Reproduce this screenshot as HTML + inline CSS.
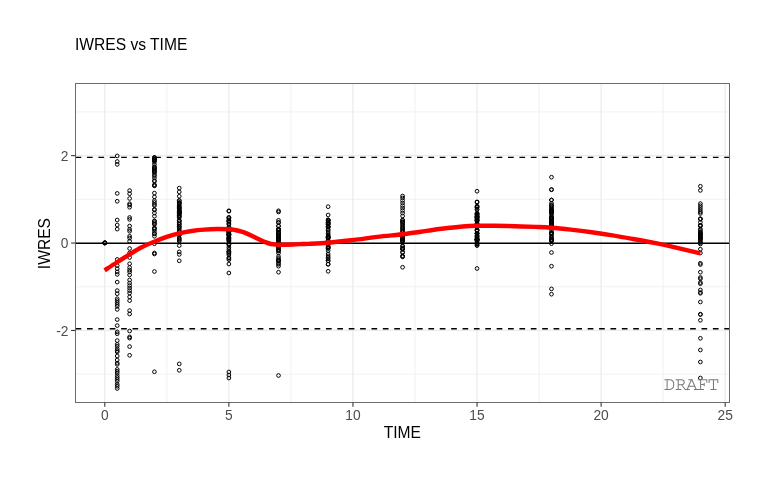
<!DOCTYPE html>
<html><head><meta charset="utf-8"><title>IWRES vs TIME</title>
<style>
html,body{margin:0;padding:0;background:#fff;}
body{width:768px;height:480px;overflow:hidden;font-family:"Liberation Sans",sans-serif;}
svg{display:block;will-change:transform;}
svg text{font-family:"Liberation Sans",sans-serif;}
svg text.mono{font-family:"Liberation Mono",monospace;}
</style></head><body>
<svg width="768" height="480" viewBox="0 0 768 480">
<rect width="768" height="480" fill="#fff"/>
<defs><clipPath id="c"><rect x="75.6" y="83.5" width="654.1999999999999" height="318.9"/></clipPath></defs>
<g clip-path="url(#c)">
<line x1="166.84" x2="166.84" y1="83.5" y2="402.4" stroke="#ebebeb" stroke-width="0.7"/>
<line x1="290.92" x2="290.92" y1="83.5" y2="402.4" stroke="#ebebeb" stroke-width="0.7"/>
<line x1="415.00" x2="415.00" y1="83.5" y2="402.4" stroke="#ebebeb" stroke-width="0.7"/>
<line x1="539.08" x2="539.08" y1="83.5" y2="402.4" stroke="#ebebeb" stroke-width="0.7"/>
<line x1="663.16" x2="663.16" y1="83.5" y2="402.4" stroke="#ebebeb" stroke-width="0.7"/>
<line y1="111.95" y2="111.95" x1="75.6" x2="729.8" stroke="#ebebeb" stroke-width="0.7"/>
<line y1="199.35" y2="199.35" x1="75.6" x2="729.8" stroke="#ebebeb" stroke-width="0.7"/>
<line y1="286.75" y2="286.75" x1="75.6" x2="729.8" stroke="#ebebeb" stroke-width="0.7"/>
<line y1="374.15" y2="374.15" x1="75.6" x2="729.8" stroke="#ebebeb" stroke-width="0.7"/>
<line x1="104.80" x2="104.80" y1="83.5" y2="402.4" stroke="#ebebeb" stroke-width="1.25"/>
<line x1="228.88" x2="228.88" y1="83.5" y2="402.4" stroke="#ebebeb" stroke-width="1.25"/>
<line x1="352.96" x2="352.96" y1="83.5" y2="402.4" stroke="#ebebeb" stroke-width="1.25"/>
<line x1="477.04" x2="477.04" y1="83.5" y2="402.4" stroke="#ebebeb" stroke-width="1.25"/>
<line x1="601.12" x2="601.12" y1="83.5" y2="402.4" stroke="#ebebeb" stroke-width="1.25"/>
<line x1="725.20" x2="725.20" y1="83.5" y2="402.4" stroke="#ebebeb" stroke-width="1.25"/>
<line y1="155.65" y2="155.65" x1="75.6" x2="729.8" stroke="#ebebeb" stroke-width="1.25"/>
<line y1="243.05" y2="243.05" x1="75.6" x2="729.8" stroke="#ebebeb" stroke-width="1.25"/>
<line y1="330.45" y2="330.45" x1="75.6" x2="729.8" stroke="#ebebeb" stroke-width="1.25"/>
<g fill="none" stroke="#000" stroke-width="1.0">
<circle cx="104.80" cy="242.90" r="1.85"/>
<circle cx="104.80" cy="242.90" r="1.85"/>
<circle cx="104.80" cy="242.90" r="1.85"/>
<circle cx="104.80" cy="242.60" r="1.85"/>
<circle cx="104.80" cy="243.20" r="1.85"/>
<circle cx="117.21" cy="155.90" r="1.85"/>
<circle cx="117.21" cy="161.50" r="1.85"/>
<circle cx="117.21" cy="164.40" r="1.85"/>
<circle cx="117.21" cy="193.40" r="1.85"/>
<circle cx="117.21" cy="201.25" r="1.85"/>
<circle cx="117.21" cy="220.00" r="1.85"/>
<circle cx="117.21" cy="225.00" r="1.85"/>
<circle cx="117.21" cy="229.10" r="1.85"/>
<circle cx="117.21" cy="259.40" r="1.85"/>
<circle cx="117.21" cy="265.60" r="1.85"/>
<circle cx="117.21" cy="268.75" r="1.85"/>
<circle cx="117.21" cy="271.90" r="1.85"/>
<circle cx="117.21" cy="274.40" r="1.85"/>
<circle cx="117.21" cy="282.10" r="1.85"/>
<circle cx="117.21" cy="290.60" r="1.85"/>
<circle cx="117.21" cy="293.75" r="1.85"/>
<circle cx="117.21" cy="298.75" r="1.85"/>
<circle cx="117.21" cy="300.60" r="1.85"/>
<circle cx="117.21" cy="302.50" r="1.85"/>
<circle cx="117.21" cy="304.40" r="1.85"/>
<circle cx="117.21" cy="306.25" r="1.85"/>
<circle cx="117.21" cy="309.40" r="1.85"/>
<circle cx="117.21" cy="319.60" r="1.85"/>
<circle cx="117.21" cy="325.60" r="1.85"/>
<circle cx="117.21" cy="331.90" r="1.85"/>
<circle cx="117.21" cy="333.75" r="1.85"/>
<circle cx="117.21" cy="340.60" r="1.85"/>
<circle cx="117.21" cy="344.40" r="1.85"/>
<circle cx="117.21" cy="346.25" r="1.85"/>
<circle cx="117.21" cy="348.75" r="1.85"/>
<circle cx="117.21" cy="350.60" r="1.85"/>
<circle cx="117.21" cy="351.90" r="1.85"/>
<circle cx="117.21" cy="356.00" r="1.85"/>
<circle cx="117.21" cy="360.00" r="1.85"/>
<circle cx="117.21" cy="363.10" r="1.85"/>
<circle cx="117.21" cy="364.40" r="1.85"/>
<circle cx="117.21" cy="369.40" r="1.85"/>
<circle cx="117.21" cy="371.25" r="1.85"/>
<circle cx="117.21" cy="373.10" r="1.85"/>
<circle cx="117.21" cy="375.60" r="1.85"/>
<circle cx="117.21" cy="377.50" r="1.85"/>
<circle cx="117.21" cy="379.40" r="1.85"/>
<circle cx="117.21" cy="381.25" r="1.85"/>
<circle cx="117.21" cy="384.40" r="1.85"/>
<circle cx="117.21" cy="386.25" r="1.85"/>
<circle cx="117.21" cy="388.50" r="1.85"/>
<circle cx="129.62" cy="190.60" r="1.85"/>
<circle cx="129.62" cy="193.75" r="1.85"/>
<circle cx="129.62" cy="198.50" r="1.85"/>
<circle cx="129.62" cy="203.75" r="1.85"/>
<circle cx="129.62" cy="205.00" r="1.85"/>
<circle cx="129.62" cy="207.25" r="1.85"/>
<circle cx="129.62" cy="217.50" r="1.85"/>
<circle cx="129.62" cy="219.40" r="1.85"/>
<circle cx="129.62" cy="226.00" r="1.85"/>
<circle cx="129.62" cy="229.40" r="1.85"/>
<circle cx="129.62" cy="231.25" r="1.85"/>
<circle cx="129.62" cy="236.25" r="1.85"/>
<circle cx="129.62" cy="238.10" r="1.85"/>
<circle cx="129.62" cy="241.25" r="1.85"/>
<circle cx="129.62" cy="248.50" r="1.85"/>
<circle cx="129.62" cy="253.00" r="1.85"/>
<circle cx="129.62" cy="257.50" r="1.85"/>
<circle cx="129.62" cy="263.75" r="1.85"/>
<circle cx="129.62" cy="267.50" r="1.85"/>
<circle cx="129.62" cy="270.00" r="1.85"/>
<circle cx="129.62" cy="271.90" r="1.85"/>
<circle cx="129.62" cy="275.00" r="1.85"/>
<circle cx="129.62" cy="280.00" r="1.85"/>
<circle cx="129.62" cy="283.10" r="1.85"/>
<circle cx="129.62" cy="285.60" r="1.85"/>
<circle cx="129.62" cy="288.10" r="1.85"/>
<circle cx="129.62" cy="290.60" r="1.85"/>
<circle cx="129.62" cy="293.10" r="1.85"/>
<circle cx="129.62" cy="296.90" r="1.85"/>
<circle cx="129.62" cy="300.60" r="1.85"/>
<circle cx="129.62" cy="310.60" r="1.85"/>
<circle cx="129.62" cy="314.00" r="1.85"/>
<circle cx="129.62" cy="331.00" r="1.85"/>
<circle cx="129.62" cy="336.90" r="1.85"/>
<circle cx="129.62" cy="338.10" r="1.85"/>
<circle cx="129.62" cy="346.60" r="1.85"/>
<circle cx="129.62" cy="355.30" r="1.85"/>
<circle cx="154.43" cy="157.50" r="1.85"/>
<circle cx="154.43" cy="157.50" r="1.85"/>
<circle cx="154.43" cy="158.55" r="1.85"/>
<circle cx="154.43" cy="159.12" r="1.85"/>
<circle cx="154.43" cy="159.46" r="1.85"/>
<circle cx="154.43" cy="159.53" r="1.85"/>
<circle cx="154.43" cy="160.04" r="1.85"/>
<circle cx="154.43" cy="160.90" r="1.85"/>
<circle cx="154.43" cy="161.72" r="1.85"/>
<circle cx="154.43" cy="164.30" r="1.85"/>
<circle cx="154.43" cy="166.57" r="1.85"/>
<circle cx="154.43" cy="167.70" r="1.85"/>
<circle cx="154.43" cy="167.74" r="1.85"/>
<circle cx="154.43" cy="169.39" r="1.85"/>
<circle cx="154.43" cy="169.64" r="1.85"/>
<circle cx="154.43" cy="171.10" r="1.85"/>
<circle cx="154.43" cy="171.71" r="1.85"/>
<circle cx="154.43" cy="172.50" r="1.85"/>
<circle cx="154.43" cy="174.50" r="1.85"/>
<circle cx="154.43" cy="175.73" r="1.85"/>
<circle cx="154.43" cy="177.90" r="1.85"/>
<circle cx="154.43" cy="180.65" r="1.85"/>
<circle cx="154.43" cy="181.30" r="1.85"/>
<circle cx="154.43" cy="184.70" r="1.85"/>
<circle cx="154.43" cy="185.50" r="1.85"/>
<circle cx="154.43" cy="185.90" r="1.85"/>
<circle cx="154.43" cy="193.10" r="1.85"/>
<circle cx="154.43" cy="196.90" r="1.85"/>
<circle cx="154.43" cy="200.60" r="1.85"/>
<circle cx="154.43" cy="202.50" r="1.85"/>
<circle cx="154.43" cy="204.40" r="1.85"/>
<circle cx="154.43" cy="209.40" r="1.85"/>
<circle cx="154.43" cy="205.60" r="1.85"/>
<circle cx="154.43" cy="210.00" r="1.85"/>
<circle cx="154.43" cy="213.00" r="1.85"/>
<circle cx="154.43" cy="216.25" r="1.85"/>
<circle cx="154.43" cy="221.00" r="1.85"/>
<circle cx="154.43" cy="221.00" r="1.85"/>
<circle cx="154.43" cy="222.61" r="1.85"/>
<circle cx="154.43" cy="223.90" r="1.85"/>
<circle cx="154.43" cy="224.40" r="1.85"/>
<circle cx="154.43" cy="227.80" r="1.85"/>
<circle cx="154.43" cy="228.50" r="1.85"/>
<circle cx="154.43" cy="229.16" r="1.85"/>
<circle cx="154.43" cy="231.20" r="1.85"/>
<circle cx="154.43" cy="233.32" r="1.85"/>
<circle cx="154.43" cy="234.00" r="1.85"/>
<circle cx="154.43" cy="236.25" r="1.85"/>
<circle cx="154.43" cy="243.75" r="1.85"/>
<circle cx="154.43" cy="253.00" r="1.85"/>
<circle cx="154.43" cy="254.00" r="1.85"/>
<circle cx="154.43" cy="271.50" r="1.85"/>
<circle cx="154.43" cy="371.80" r="1.85"/>
<circle cx="179.25" cy="188.10" r="1.85"/>
<circle cx="179.25" cy="191.90" r="1.85"/>
<circle cx="179.25" cy="196.25" r="1.85"/>
<circle cx="179.25" cy="200.60" r="1.85"/>
<circle cx="179.25" cy="200.60" r="1.85"/>
<circle cx="179.25" cy="202.48" r="1.85"/>
<circle cx="179.25" cy="203.01" r="1.85"/>
<circle cx="179.25" cy="203.14" r="1.85"/>
<circle cx="179.25" cy="204.00" r="1.85"/>
<circle cx="179.25" cy="205.36" r="1.85"/>
<circle cx="179.25" cy="206.43" r="1.85"/>
<circle cx="179.25" cy="207.40" r="1.85"/>
<circle cx="179.25" cy="207.90" r="1.85"/>
<circle cx="179.25" cy="208.52" r="1.85"/>
<circle cx="179.25" cy="208.94" r="1.85"/>
<circle cx="179.25" cy="210.08" r="1.85"/>
<circle cx="179.25" cy="210.80" r="1.85"/>
<circle cx="179.25" cy="211.37" r="1.85"/>
<circle cx="179.25" cy="211.92" r="1.85"/>
<circle cx="179.25" cy="212.30" r="1.85"/>
<circle cx="179.25" cy="212.30" r="1.85"/>
<circle cx="179.25" cy="213.06" r="1.85"/>
<circle cx="179.25" cy="213.08" r="1.85"/>
<circle cx="179.25" cy="213.18" r="1.85"/>
<circle cx="179.25" cy="213.20" r="1.85"/>
<circle cx="179.25" cy="214.20" r="1.85"/>
<circle cx="179.25" cy="215.64" r="1.85"/>
<circle cx="179.25" cy="215.65" r="1.85"/>
<circle cx="179.25" cy="216.63" r="1.85"/>
<circle cx="179.25" cy="217.60" r="1.85"/>
<circle cx="179.25" cy="220.50" r="1.85"/>
<circle cx="179.25" cy="220.74" r="1.85"/>
<circle cx="179.25" cy="221.00" r="1.85"/>
<circle cx="179.25" cy="222.73" r="1.85"/>
<circle cx="179.25" cy="224.10" r="1.85"/>
<circle cx="179.25" cy="224.40" r="1.85"/>
<circle cx="179.25" cy="226.41" r="1.85"/>
<circle cx="179.25" cy="226.49" r="1.85"/>
<circle cx="179.25" cy="227.80" r="1.85"/>
<circle cx="179.25" cy="228.92" r="1.85"/>
<circle cx="179.25" cy="230.80" r="1.85"/>
<circle cx="179.25" cy="231.20" r="1.85"/>
<circle cx="179.25" cy="233.57" r="1.85"/>
<circle cx="179.25" cy="234.60" r="1.85"/>
<circle cx="179.25" cy="235.28" r="1.85"/>
<circle cx="179.25" cy="238.00" r="1.85"/>
<circle cx="179.25" cy="238.88" r="1.85"/>
<circle cx="179.25" cy="240.04" r="1.85"/>
<circle cx="179.25" cy="241.00" r="1.85"/>
<circle cx="179.25" cy="245.60" r="1.85"/>
<circle cx="179.25" cy="251.90" r="1.85"/>
<circle cx="179.25" cy="254.40" r="1.85"/>
<circle cx="179.25" cy="260.80" r="1.85"/>
<circle cx="179.25" cy="363.90" r="1.85"/>
<circle cx="179.25" cy="370.30" r="1.85"/>
<circle cx="228.88" cy="210.80" r="1.85"/>
<circle cx="228.88" cy="211.20" r="1.85"/>
<circle cx="228.88" cy="217.50" r="1.85"/>
<circle cx="228.88" cy="217.50" r="1.85"/>
<circle cx="228.88" cy="218.67" r="1.85"/>
<circle cx="228.88" cy="220.66" r="1.85"/>
<circle cx="228.88" cy="220.90" r="1.85"/>
<circle cx="228.88" cy="221.02" r="1.85"/>
<circle cx="228.88" cy="222.03" r="1.85"/>
<circle cx="228.88" cy="223.65" r="1.85"/>
<circle cx="228.88" cy="224.30" r="1.85"/>
<circle cx="228.88" cy="226.85" r="1.85"/>
<circle cx="228.88" cy="227.70" r="1.85"/>
<circle cx="228.88" cy="228.71" r="1.85"/>
<circle cx="228.88" cy="229.72" r="1.85"/>
<circle cx="228.88" cy="229.96" r="1.85"/>
<circle cx="228.88" cy="230.02" r="1.85"/>
<circle cx="228.88" cy="230.55" r="1.85"/>
<circle cx="228.88" cy="231.10" r="1.85"/>
<circle cx="228.88" cy="231.13" r="1.85"/>
<circle cx="228.88" cy="231.30" r="1.85"/>
<circle cx="228.88" cy="231.33" r="1.85"/>
<circle cx="228.88" cy="231.83" r="1.85"/>
<circle cx="228.88" cy="231.98" r="1.85"/>
<circle cx="228.88" cy="232.07" r="1.85"/>
<circle cx="228.88" cy="233.43" r="1.85"/>
<circle cx="228.88" cy="234.00" r="1.85"/>
<circle cx="228.88" cy="234.16" r="1.85"/>
<circle cx="228.88" cy="234.50" r="1.85"/>
<circle cx="228.88" cy="234.58" r="1.85"/>
<circle cx="228.88" cy="234.78" r="1.85"/>
<circle cx="228.88" cy="235.21" r="1.85"/>
<circle cx="228.88" cy="235.84" r="1.85"/>
<circle cx="228.88" cy="237.41" r="1.85"/>
<circle cx="228.88" cy="237.90" r="1.85"/>
<circle cx="228.88" cy="238.22" r="1.85"/>
<circle cx="228.88" cy="238.70" r="1.85"/>
<circle cx="228.88" cy="239.35" r="1.85"/>
<circle cx="228.88" cy="240.06" r="1.85"/>
<circle cx="228.88" cy="240.28" r="1.85"/>
<circle cx="228.88" cy="241.30" r="1.85"/>
<circle cx="228.88" cy="243.59" r="1.85"/>
<circle cx="228.88" cy="244.43" r="1.85"/>
<circle cx="228.88" cy="244.70" r="1.85"/>
<circle cx="228.88" cy="247.30" r="1.85"/>
<circle cx="228.88" cy="249.20" r="1.85"/>
<circle cx="228.88" cy="251.50" r="1.85"/>
<circle cx="228.88" cy="251.50" r="1.85"/>
<circle cx="228.88" cy="252.56" r="1.85"/>
<circle cx="228.88" cy="253.53" r="1.85"/>
<circle cx="228.88" cy="254.90" r="1.85"/>
<circle cx="228.88" cy="257.80" r="1.85"/>
<circle cx="228.88" cy="258.30" r="1.85"/>
<circle cx="228.88" cy="259.70" r="1.85"/>
<circle cx="228.88" cy="264.00" r="1.85"/>
<circle cx="228.88" cy="273.00" r="1.85"/>
<circle cx="228.88" cy="372.00" r="1.85"/>
<circle cx="228.88" cy="375.00" r="1.85"/>
<circle cx="228.88" cy="378.00" r="1.85"/>
<circle cx="278.51" cy="210.80" r="1.85"/>
<circle cx="278.51" cy="212.00" r="1.85"/>
<circle cx="278.51" cy="220.30" r="1.85"/>
<circle cx="278.51" cy="222.50" r="1.85"/>
<circle cx="278.51" cy="222.50" r="1.85"/>
<circle cx="278.51" cy="225.90" r="1.85"/>
<circle cx="278.51" cy="226.02" r="1.85"/>
<circle cx="278.51" cy="229.10" r="1.85"/>
<circle cx="278.51" cy="229.30" r="1.85"/>
<circle cx="278.51" cy="229.49" r="1.85"/>
<circle cx="278.51" cy="230.20" r="1.85"/>
<circle cx="278.51" cy="230.34" r="1.85"/>
<circle cx="278.51" cy="232.18" r="1.85"/>
<circle cx="278.51" cy="232.64" r="1.85"/>
<circle cx="278.51" cy="232.70" r="1.85"/>
<circle cx="278.51" cy="232.70" r="1.85"/>
<circle cx="278.51" cy="233.29" r="1.85"/>
<circle cx="278.51" cy="234.67" r="1.85"/>
<circle cx="278.51" cy="234.96" r="1.85"/>
<circle cx="278.51" cy="236.10" r="1.85"/>
<circle cx="278.51" cy="236.61" r="1.85"/>
<circle cx="278.51" cy="236.84" r="1.85"/>
<circle cx="278.51" cy="237.73" r="1.85"/>
<circle cx="278.51" cy="238.18" r="1.85"/>
<circle cx="278.51" cy="238.86" r="1.85"/>
<circle cx="278.51" cy="238.97" r="1.85"/>
<circle cx="278.51" cy="239.50" r="1.85"/>
<circle cx="278.51" cy="239.58" r="1.85"/>
<circle cx="278.51" cy="240.20" r="1.85"/>
<circle cx="278.51" cy="240.65" r="1.85"/>
<circle cx="278.51" cy="242.13" r="1.85"/>
<circle cx="278.51" cy="242.90" r="1.85"/>
<circle cx="278.51" cy="243.69" r="1.85"/>
<circle cx="278.51" cy="246.30" r="1.85"/>
<circle cx="278.51" cy="246.51" r="1.85"/>
<circle cx="278.51" cy="247.21" r="1.85"/>
<circle cx="278.51" cy="247.94" r="1.85"/>
<circle cx="278.51" cy="249.60" r="1.85"/>
<circle cx="278.51" cy="249.70" r="1.85"/>
<circle cx="278.51" cy="250.70" r="1.85"/>
<circle cx="278.51" cy="251.17" r="1.85"/>
<circle cx="278.51" cy="253.10" r="1.85"/>
<circle cx="278.51" cy="256.50" r="1.85"/>
<circle cx="278.51" cy="258.30" r="1.85"/>
<circle cx="278.51" cy="259.90" r="1.85"/>
<circle cx="278.51" cy="260.26" r="1.85"/>
<circle cx="278.51" cy="260.58" r="1.85"/>
<circle cx="278.51" cy="261.10" r="1.85"/>
<circle cx="278.51" cy="261.14" r="1.85"/>
<circle cx="278.51" cy="263.30" r="1.85"/>
<circle cx="278.51" cy="264.35" r="1.85"/>
<circle cx="278.51" cy="266.20" r="1.85"/>
<circle cx="278.51" cy="272.20" r="1.85"/>
<circle cx="278.51" cy="375.50" r="1.85"/>
<circle cx="328.14" cy="206.70" r="1.85"/>
<circle cx="328.14" cy="215.00" r="1.85"/>
<circle cx="328.14" cy="220.00" r="1.85"/>
<circle cx="328.14" cy="220.00" r="1.85"/>
<circle cx="328.14" cy="220.01" r="1.85"/>
<circle cx="328.14" cy="220.24" r="1.85"/>
<circle cx="328.14" cy="221.13" r="1.85"/>
<circle cx="328.14" cy="222.33" r="1.85"/>
<circle cx="328.14" cy="222.76" r="1.85"/>
<circle cx="328.14" cy="222.98" r="1.85"/>
<circle cx="328.14" cy="223.40" r="1.85"/>
<circle cx="328.14" cy="224.49" r="1.85"/>
<circle cx="328.14" cy="224.59" r="1.85"/>
<circle cx="328.14" cy="226.58" r="1.85"/>
<circle cx="328.14" cy="226.70" r="1.85"/>
<circle cx="328.14" cy="226.80" r="1.85"/>
<circle cx="328.14" cy="227.19" r="1.85"/>
<circle cx="328.14" cy="229.25" r="1.85"/>
<circle cx="328.14" cy="230.20" r="1.85"/>
<circle cx="328.14" cy="231.90" r="1.85"/>
<circle cx="328.14" cy="233.60" r="1.85"/>
<circle cx="328.14" cy="235.06" r="1.85"/>
<circle cx="328.14" cy="236.11" r="1.85"/>
<circle cx="328.14" cy="236.77" r="1.85"/>
<circle cx="328.14" cy="237.00" r="1.85"/>
<circle cx="328.14" cy="237.38" r="1.85"/>
<circle cx="328.14" cy="237.51" r="1.85"/>
<circle cx="328.14" cy="237.67" r="1.85"/>
<circle cx="328.14" cy="238.28" r="1.85"/>
<circle cx="328.14" cy="240.40" r="1.85"/>
<circle cx="328.14" cy="240.89" r="1.85"/>
<circle cx="328.14" cy="242.93" r="1.85"/>
<circle cx="328.14" cy="242.97" r="1.85"/>
<circle cx="328.14" cy="243.28" r="1.85"/>
<circle cx="328.14" cy="243.80" r="1.85"/>
<circle cx="328.14" cy="244.12" r="1.85"/>
<circle cx="328.14" cy="244.22" r="1.85"/>
<circle cx="328.14" cy="246.30" r="1.85"/>
<circle cx="328.14" cy="247.20" r="1.85"/>
<circle cx="328.14" cy="247.20" r="1.85"/>
<circle cx="328.14" cy="248.10" r="1.85"/>
<circle cx="328.14" cy="248.48" r="1.85"/>
<circle cx="328.14" cy="250.60" r="1.85"/>
<circle cx="328.14" cy="254.00" r="1.85"/>
<circle cx="328.14" cy="255.87" r="1.85"/>
<circle cx="328.14" cy="257.40" r="1.85"/>
<circle cx="328.14" cy="258.73" r="1.85"/>
<circle cx="328.14" cy="260.67" r="1.85"/>
<circle cx="328.14" cy="260.80" r="1.85"/>
<circle cx="328.14" cy="264.20" r="1.85"/>
<circle cx="328.14" cy="264.30" r="1.85"/>
<circle cx="328.14" cy="271.30" r="1.85"/>
<circle cx="402.59" cy="196.00" r="1.85"/>
<circle cx="402.59" cy="198.00" r="1.85"/>
<circle cx="402.59" cy="200.50" r="1.85"/>
<circle cx="402.59" cy="203.00" r="1.85"/>
<circle cx="402.59" cy="205.60" r="1.85"/>
<circle cx="402.59" cy="208.00" r="1.85"/>
<circle cx="402.59" cy="210.50" r="1.85"/>
<circle cx="402.59" cy="213.00" r="1.85"/>
<circle cx="402.59" cy="216.00" r="1.85"/>
<circle cx="402.59" cy="220.00" r="1.85"/>
<circle cx="402.59" cy="220.40" r="1.85"/>
<circle cx="402.59" cy="222.00" r="1.85"/>
<circle cx="402.59" cy="222.00" r="1.85"/>
<circle cx="402.59" cy="222.94" r="1.85"/>
<circle cx="402.59" cy="224.44" r="1.85"/>
<circle cx="402.59" cy="225.40" r="1.85"/>
<circle cx="402.59" cy="227.12" r="1.85"/>
<circle cx="402.59" cy="227.83" r="1.85"/>
<circle cx="402.59" cy="228.80" r="1.85"/>
<circle cx="402.59" cy="230.14" r="1.85"/>
<circle cx="402.59" cy="231.11" r="1.85"/>
<circle cx="402.59" cy="232.20" r="1.85"/>
<circle cx="402.59" cy="234.77" r="1.85"/>
<circle cx="402.59" cy="234.80" r="1.85"/>
<circle cx="402.59" cy="235.60" r="1.85"/>
<circle cx="402.59" cy="235.70" r="1.85"/>
<circle cx="402.59" cy="237.08" r="1.85"/>
<circle cx="402.59" cy="238.05" r="1.85"/>
<circle cx="402.59" cy="238.37" r="1.85"/>
<circle cx="402.59" cy="239.00" r="1.85"/>
<circle cx="402.59" cy="240.25" r="1.85"/>
<circle cx="402.59" cy="240.43" r="1.85"/>
<circle cx="402.59" cy="240.44" r="1.85"/>
<circle cx="402.59" cy="240.59" r="1.85"/>
<circle cx="402.59" cy="240.96" r="1.85"/>
<circle cx="402.59" cy="242.40" r="1.85"/>
<circle cx="402.59" cy="245.80" r="1.85"/>
<circle cx="402.59" cy="246.30" r="1.85"/>
<circle cx="402.59" cy="248.00" r="1.85"/>
<circle cx="402.59" cy="248.94" r="1.85"/>
<circle cx="402.59" cy="248.99" r="1.85"/>
<circle cx="402.59" cy="249.20" r="1.85"/>
<circle cx="402.59" cy="252.13" r="1.85"/>
<circle cx="402.59" cy="252.60" r="1.85"/>
<circle cx="402.59" cy="256.00" r="1.85"/>
<circle cx="402.59" cy="256.15" r="1.85"/>
<circle cx="402.59" cy="256.90" r="1.85"/>
<circle cx="402.59" cy="267.25" r="1.85"/>
<circle cx="477.04" cy="191.25" r="1.85"/>
<circle cx="477.04" cy="201.90" r="1.85"/>
<circle cx="477.04" cy="202.20" r="1.85"/>
<circle cx="477.04" cy="206.25" r="1.85"/>
<circle cx="477.04" cy="206.25" r="1.85"/>
<circle cx="477.04" cy="207.35" r="1.85"/>
<circle cx="477.04" cy="207.39" r="1.85"/>
<circle cx="477.04" cy="209.13" r="1.85"/>
<circle cx="477.04" cy="209.65" r="1.85"/>
<circle cx="477.04" cy="213.05" r="1.85"/>
<circle cx="477.04" cy="213.55" r="1.85"/>
<circle cx="477.04" cy="213.99" r="1.85"/>
<circle cx="477.04" cy="214.29" r="1.85"/>
<circle cx="477.04" cy="214.93" r="1.85"/>
<circle cx="477.04" cy="215.18" r="1.85"/>
<circle cx="477.04" cy="216.45" r="1.85"/>
<circle cx="477.04" cy="216.45" r="1.85"/>
<circle cx="477.04" cy="216.45" r="1.85"/>
<circle cx="477.04" cy="217.25" r="1.85"/>
<circle cx="477.04" cy="217.46" r="1.85"/>
<circle cx="477.04" cy="217.51" r="1.85"/>
<circle cx="477.04" cy="218.24" r="1.85"/>
<circle cx="477.04" cy="218.66" r="1.85"/>
<circle cx="477.04" cy="219.85" r="1.85"/>
<circle cx="477.04" cy="219.95" r="1.85"/>
<circle cx="477.04" cy="220.20" r="1.85"/>
<circle cx="477.04" cy="220.24" r="1.85"/>
<circle cx="477.04" cy="220.60" r="1.85"/>
<circle cx="477.04" cy="221.19" r="1.85"/>
<circle cx="477.04" cy="223.25" r="1.85"/>
<circle cx="477.04" cy="223.85" r="1.85"/>
<circle cx="477.04" cy="224.18" r="1.85"/>
<circle cx="477.04" cy="224.91" r="1.85"/>
<circle cx="477.04" cy="224.93" r="1.85"/>
<circle cx="477.04" cy="225.12" r="1.85"/>
<circle cx="477.04" cy="225.65" r="1.85"/>
<circle cx="477.04" cy="226.51" r="1.85"/>
<circle cx="477.04" cy="226.62" r="1.85"/>
<circle cx="477.04" cy="226.65" r="1.85"/>
<circle cx="477.04" cy="227.51" r="1.85"/>
<circle cx="477.04" cy="227.59" r="1.85"/>
<circle cx="477.04" cy="230.02" r="1.85"/>
<circle cx="477.04" cy="230.05" r="1.85"/>
<circle cx="477.04" cy="230.11" r="1.85"/>
<circle cx="477.04" cy="230.81" r="1.85"/>
<circle cx="477.04" cy="233.08" r="1.85"/>
<circle cx="477.04" cy="233.25" r="1.85"/>
<circle cx="477.04" cy="233.45" r="1.85"/>
<circle cx="477.04" cy="233.50" r="1.85"/>
<circle cx="477.04" cy="235.20" r="1.85"/>
<circle cx="477.04" cy="235.47" r="1.85"/>
<circle cx="477.04" cy="236.51" r="1.85"/>
<circle cx="477.04" cy="236.85" r="1.85"/>
<circle cx="477.04" cy="237.66" r="1.85"/>
<circle cx="477.04" cy="238.89" r="1.85"/>
<circle cx="477.04" cy="239.05" r="1.85"/>
<circle cx="477.04" cy="239.29" r="1.85"/>
<circle cx="477.04" cy="239.32" r="1.85"/>
<circle cx="477.04" cy="239.48" r="1.85"/>
<circle cx="477.04" cy="239.60" r="1.85"/>
<circle cx="477.04" cy="239.70" r="1.85"/>
<circle cx="477.04" cy="240.25" r="1.85"/>
<circle cx="477.04" cy="240.25" r="1.85"/>
<circle cx="477.04" cy="240.50" r="1.85"/>
<circle cx="477.04" cy="241.68" r="1.85"/>
<circle cx="477.04" cy="243.12" r="1.85"/>
<circle cx="477.04" cy="243.65" r="1.85"/>
<circle cx="477.04" cy="243.83" r="1.85"/>
<circle cx="477.04" cy="243.89" r="1.85"/>
<circle cx="477.04" cy="245.13" r="1.85"/>
<circle cx="477.04" cy="245.60" r="1.85"/>
<circle cx="477.04" cy="268.50" r="1.85"/>
<circle cx="551.49" cy="177.20" r="1.85"/>
<circle cx="551.49" cy="189.50" r="1.85"/>
<circle cx="551.49" cy="189.80" r="1.85"/>
<circle cx="551.49" cy="200.00" r="1.85"/>
<circle cx="551.49" cy="200.00" r="1.85"/>
<circle cx="551.49" cy="203.40" r="1.85"/>
<circle cx="551.49" cy="205.27" r="1.85"/>
<circle cx="551.49" cy="205.73" r="1.85"/>
<circle cx="551.49" cy="206.80" r="1.85"/>
<circle cx="551.49" cy="208.21" r="1.85"/>
<circle cx="551.49" cy="209.22" r="1.85"/>
<circle cx="551.49" cy="210.20" r="1.85"/>
<circle cx="551.49" cy="210.51" r="1.85"/>
<circle cx="551.49" cy="211.01" r="1.85"/>
<circle cx="551.49" cy="211.33" r="1.85"/>
<circle cx="551.49" cy="211.80" r="1.85"/>
<circle cx="551.49" cy="212.06" r="1.85"/>
<circle cx="551.49" cy="212.80" r="1.85"/>
<circle cx="551.49" cy="213.60" r="1.85"/>
<circle cx="551.49" cy="215.46" r="1.85"/>
<circle cx="551.49" cy="217.00" r="1.85"/>
<circle cx="551.49" cy="217.95" r="1.85"/>
<circle cx="551.49" cy="218.01" r="1.85"/>
<circle cx="551.49" cy="218.31" r="1.85"/>
<circle cx="551.49" cy="218.34" r="1.85"/>
<circle cx="551.49" cy="218.96" r="1.85"/>
<circle cx="551.49" cy="220.02" r="1.85"/>
<circle cx="551.49" cy="220.40" r="1.85"/>
<circle cx="551.49" cy="221.66" r="1.85"/>
<circle cx="551.49" cy="221.72" r="1.85"/>
<circle cx="551.49" cy="223.01" r="1.85"/>
<circle cx="551.49" cy="223.23" r="1.85"/>
<circle cx="551.49" cy="223.38" r="1.85"/>
<circle cx="551.49" cy="223.80" r="1.85"/>
<circle cx="551.49" cy="223.91" r="1.85"/>
<circle cx="551.49" cy="225.49" r="1.85"/>
<circle cx="551.49" cy="225.63" r="1.85"/>
<circle cx="551.49" cy="225.67" r="1.85"/>
<circle cx="551.49" cy="227.20" r="1.85"/>
<circle cx="551.49" cy="228.43" r="1.85"/>
<circle cx="551.49" cy="230.60" r="1.85"/>
<circle cx="551.49" cy="232.79" r="1.85"/>
<circle cx="551.49" cy="232.85" r="1.85"/>
<circle cx="551.49" cy="233.43" r="1.85"/>
<circle cx="551.49" cy="233.47" r="1.85"/>
<circle cx="551.49" cy="234.00" r="1.85"/>
<circle cx="551.49" cy="236.10" r="1.85"/>
<circle cx="551.49" cy="237.40" r="1.85"/>
<circle cx="551.49" cy="238.10" r="1.85"/>
<circle cx="551.49" cy="239.52" r="1.85"/>
<circle cx="551.49" cy="239.77" r="1.85"/>
<circle cx="551.49" cy="240.13" r="1.85"/>
<circle cx="551.49" cy="240.80" r="1.85"/>
<circle cx="551.49" cy="240.80" r="1.85"/>
<circle cx="551.49" cy="243.70" r="1.85"/>
<circle cx="551.49" cy="252.50" r="1.85"/>
<circle cx="551.49" cy="266.20" r="1.85"/>
<circle cx="551.49" cy="288.90" r="1.85"/>
<circle cx="551.49" cy="294.20" r="1.85"/>
<circle cx="700.38" cy="186.25" r="1.85"/>
<circle cx="700.38" cy="190.40" r="1.85"/>
<circle cx="700.38" cy="203.60" r="1.85"/>
<circle cx="700.38" cy="205.70" r="1.85"/>
<circle cx="700.38" cy="207.80" r="1.85"/>
<circle cx="700.38" cy="209.90" r="1.85"/>
<circle cx="700.38" cy="212.00" r="1.85"/>
<circle cx="700.38" cy="213.50" r="1.85"/>
<circle cx="700.38" cy="218.75" r="1.85"/>
<circle cx="700.38" cy="219.00" r="1.85"/>
<circle cx="700.38" cy="219.00" r="1.85"/>
<circle cx="700.38" cy="222.40" r="1.85"/>
<circle cx="700.38" cy="225.21" r="1.85"/>
<circle cx="700.38" cy="225.80" r="1.85"/>
<circle cx="700.38" cy="225.92" r="1.85"/>
<circle cx="700.38" cy="229.20" r="1.85"/>
<circle cx="700.38" cy="230.08" r="1.85"/>
<circle cx="700.38" cy="231.69" r="1.85"/>
<circle cx="700.38" cy="232.60" r="1.85"/>
<circle cx="700.38" cy="233.04" r="1.85"/>
<circle cx="700.38" cy="234.31" r="1.85"/>
<circle cx="700.38" cy="234.58" r="1.85"/>
<circle cx="700.38" cy="235.07" r="1.85"/>
<circle cx="700.38" cy="236.00" r="1.85"/>
<circle cx="700.38" cy="236.90" r="1.85"/>
<circle cx="700.38" cy="237.88" r="1.85"/>
<circle cx="700.38" cy="238.00" r="1.85"/>
<circle cx="700.38" cy="238.31" r="1.85"/>
<circle cx="700.38" cy="239.40" r="1.85"/>
<circle cx="700.38" cy="240.26" r="1.85"/>
<circle cx="700.38" cy="241.81" r="1.85"/>
<circle cx="700.38" cy="242.80" r="1.85"/>
<circle cx="700.38" cy="244.00" r="1.85"/>
<circle cx="700.38" cy="249.20" r="1.85"/>
<circle cx="700.38" cy="253.00" r="1.85"/>
<circle cx="700.38" cy="263.30" r="1.85"/>
<circle cx="700.38" cy="264.50" r="1.85"/>
<circle cx="700.38" cy="272.20" r="1.85"/>
<circle cx="700.38" cy="277.50" r="1.85"/>
<circle cx="700.38" cy="278.80" r="1.85"/>
<circle cx="700.38" cy="282.50" r="1.85"/>
<circle cx="700.38" cy="283.70" r="1.85"/>
<circle cx="700.38" cy="290.00" r="1.85"/>
<circle cx="700.38" cy="292.50" r="1.85"/>
<circle cx="700.38" cy="293.30" r="1.85"/>
<circle cx="700.38" cy="302.00" r="1.85"/>
<circle cx="700.38" cy="314.20" r="1.85"/>
<circle cx="700.38" cy="314.50" r="1.85"/>
<circle cx="700.38" cy="320.30" r="1.85"/>
<circle cx="700.38" cy="338.30" r="1.85"/>
<circle cx="700.38" cy="350.00" r="1.85"/>
<circle cx="700.38" cy="362.00" r="1.85"/>
<circle cx="700.38" cy="378.00" r="1.85"/>
</g>
<line x1="75.6" x2="729.8" y1="243.27" y2="243.27" stroke="#000" stroke-width="1.45"/>
<line x1="75.6" x2="729.8" y1="157.40" y2="157.40" stroke="#000" stroke-width="1.4" stroke-dasharray="5.69 5.69"/>
<line x1="75.6" x2="729.8" y1="328.70" y2="328.70" stroke="#000" stroke-width="1.4" stroke-dasharray="5.69 5.69"/>
<path d="M104.60,270.40 C106.62,269.08 112.60,265.13 116.70,262.50 C120.80,259.87 125.03,257.13 129.20,254.60 C133.37,252.07 137.53,249.45 141.70,247.30 C145.87,245.15 150.03,243.43 154.20,241.70 C158.37,239.97 162.53,238.30 166.70,236.90 C170.87,235.50 175.03,234.28 179.20,233.30 C183.37,232.32 187.53,231.62 191.70,231.00 C195.87,230.38 200.03,229.93 204.20,229.60 C208.37,229.27 212.53,229.05 216.70,229.00 C220.87,228.95 226.15,229.13 229.20,229.30 C232.25,229.47 232.92,229.62 235.00,230.00 C237.08,230.38 239.70,231.00 241.70,231.60 C243.70,232.20 245.17,232.82 247.00,233.60 C248.83,234.38 251.03,235.50 252.70,236.30 C254.37,237.10 255.62,237.73 257.00,238.40 C258.38,239.07 259.67,239.70 261.00,240.30 C262.33,240.90 263.62,241.47 265.00,242.00 C266.38,242.53 267.88,243.12 269.30,243.50 C270.72,243.88 272.10,244.10 273.50,244.30 C274.90,244.50 275.62,244.62 277.70,244.70 C279.78,244.77 283.45,244.78 286.00,244.75 C288.55,244.72 290.67,244.60 293.00,244.50 C295.33,244.40 297.45,244.26 300.00,244.15 C302.55,244.04 303.62,244.09 308.30,243.85 C312.98,243.61 322.19,243.17 328.10,242.70 C334.01,242.22 338.72,241.55 343.75,241.00 C348.78,240.45 353.09,240.05 358.30,239.40 C363.51,238.75 369.43,237.77 375.00,237.10 C380.57,236.43 387.08,235.87 391.70,235.40 C396.32,234.93 397.85,234.92 402.70,234.30 C407.55,233.68 414.30,232.62 420.80,231.70 C427.30,230.77 434.75,229.62 441.70,228.75 C448.65,227.88 456.60,226.99 462.50,226.50 C468.40,226.01 471.89,225.92 477.10,225.80 C482.31,225.68 487.50,225.73 493.75,225.80 C500.00,225.88 507.66,226.07 514.60,226.25 C521.54,226.43 529.25,226.66 535.40,226.90 C541.55,227.14 545.60,227.25 551.50,227.70 C557.40,228.15 564.10,228.85 570.80,229.60 C577.50,230.35 584.75,231.24 591.70,232.20 C598.65,233.16 605.57,234.22 612.50,235.35 C619.43,236.48 626.35,237.74 633.30,239.00 C640.25,240.26 647.25,241.50 654.20,242.90 C661.15,244.30 667.30,245.67 675.00,247.40 C682.70,249.13 696.17,252.32 700.40,253.30" fill="none" stroke="#ff0000" stroke-width="4.45" stroke-linejoin="round" stroke-linecap="butt"/>
<path d="M665.0,379.7H669.5C672.6,379.7 673.8,382 673.8,384.6C673.8,387.2 672.6,389.5 669.5,389.5H665.0M667.1,379.7V389.5M676.1,379.7H681.3C683.3,379.7 684.2,380.9 684.2,382.2C684.2,383.5 683.3,384.7 681.3,384.7H678.2M678.2,379.7V389.5M676.1,389.5H680.8M681.6,384.7L685.2,389.5H686.8M688.9,379.7H691.9M691.4,379.7L687.2,389.5M691.9,379.7L696.2,389.5M685.8,389.5H689.3M694.3,389.5H697.9M688.6,386.2H694.8M698.3,379.7H706.8V382.3M700.6,379.7V389.5M698.3,389.5H703.5M700.6,384.5H704.2M704.2,383.2V385.8M709.1,382.5V379.7H717.8V382.5M713.45,379.7V389.5M711,389.5H716" fill="none" stroke="#7a7a7a" stroke-width="1.05" stroke-linecap="square" stroke-linejoin="miter"/>
</g>
<rect x="75.5" y="83.5" width="654" height="319" fill="none" stroke="#6b6b6b" stroke-width="1"/>
<line x1="104.80" x2="104.80" y1="402.4" y2="406.79999999999995" stroke="#333" stroke-width="1.07"/>
<text transform="translate(104.80,419.9) scale(1,1.045)" text-anchor="middle" font-size="13.8" fill="#4d4d4d">0</text>
<line x1="228.88" x2="228.88" y1="402.4" y2="406.79999999999995" stroke="#333" stroke-width="1.07"/>
<text transform="translate(228.88,419.9) scale(1,1.045)" text-anchor="middle" font-size="13.8" fill="#4d4d4d">5</text>
<line x1="352.96" x2="352.96" y1="402.4" y2="406.79999999999995" stroke="#333" stroke-width="1.07"/>
<text transform="translate(352.96,419.9) scale(1,1.045)" text-anchor="middle" font-size="13.8" fill="#4d4d4d">10</text>
<line x1="477.04" x2="477.04" y1="402.4" y2="406.79999999999995" stroke="#333" stroke-width="1.07"/>
<text transform="translate(477.04,419.9) scale(1,1.045)" text-anchor="middle" font-size="13.8" fill="#4d4d4d">15</text>
<line x1="601.12" x2="601.12" y1="402.4" y2="406.79999999999995" stroke="#333" stroke-width="1.07"/>
<text transform="translate(601.12,419.9) scale(1,1.045)" text-anchor="middle" font-size="13.8" fill="#4d4d4d">20</text>
<line x1="725.20" x2="725.20" y1="402.4" y2="406.79999999999995" stroke="#333" stroke-width="1.07"/>
<text transform="translate(725.20,419.9) scale(1,1.045)" text-anchor="middle" font-size="13.8" fill="#4d4d4d">25</text>
<line y1="155.65" y2="155.65" x1="71.1" x2="75.6" stroke="#333" stroke-width="1.07"/>
<text transform="translate(68.5,160.95) scale(1,1.045)" text-anchor="end" font-size="13.8" fill="#4d4d4d">2</text>
<line y1="243.05" y2="243.05" x1="71.1" x2="75.6" stroke="#333" stroke-width="1.07"/>
<text transform="translate(68.5,248.35) scale(1,1.045)" text-anchor="end" font-size="13.8" fill="#4d4d4d">0</text>
<line y1="330.45" y2="330.45" x1="71.1" x2="75.6" stroke="#333" stroke-width="1.07"/>
<text transform="translate(68.5,335.75) scale(1,1.045)" text-anchor="end" font-size="13.8" fill="#4d4d4d">-2</text>
<text x="75.0" y="49.7" font-size="15.6" fill="#000">IWRES vs TIME</text>
<text x="402.3" y="438" text-anchor="middle" font-size="15.6" fill="#000">TIME</text>
<text transform="translate(50.3,243.6) rotate(-90)" text-anchor="middle" font-size="15.6" fill="#000">IWRES</text>
</svg>
</body></html>
